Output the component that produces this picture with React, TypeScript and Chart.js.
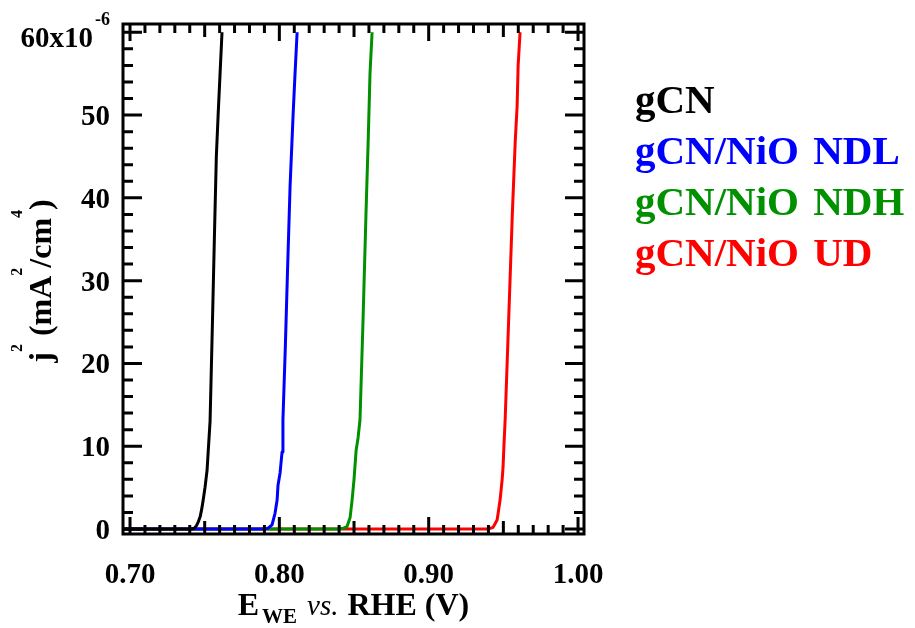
import React, { useEffect, useRef } from 'react';
import { Chart, registerables } from 'chart.js';

Chart.register(...registerables);

// ---- data (E vs RHE in V, j^2 in 10^-6 mA^2/cm^4) ----
const SERIES_LABELS = ['gCN', 'gCN/NiO NDL', 'gCN/NiO NDH', 'gCN/NiO UD'];
const SERIES_COLORS = ['#000000', '#0000FF', '#009000', '#FF0000'];

const GCN_E = [0.690, 0.7410, 0.7430, 0.7445, 0.7458, 0.7470, 0.7480, 0.7490, 0.7502, 0.7516, 0.7524, 0.7536, 0.7552, 0.7566, 0.7578, 0.7590, 0.7603, 0.7616];
const GCN_J2 = [0, 0, 0.1, 0.4, 0.9, 1.5, 2.4, 3.5, 5.0, 7.1, 9.5, 13, 25, 36, 45, 50, 55, 60];

const NDL_E = [0.690, 0.7891, 0.7924, 0.7951, 0.7971, 0.7985, 0.7991, 0.8005, 0.8018, 0.8024, 0.8040, 0.8056, 0.8072, 0.8092, 0.8105, 0.8119];
const NDL_J2 = [0, 0, 0.1, 0.5, 1.9, 3.5, 5.3, 6.8, 9.3, 13.2, 22, 32, 41.5, 50, 55, 60];

const NDH_E = [0.690, 0.8393, 0.8430, 0.8453, 0.8474, 0.8487, 0.8500, 0.8514, 0.8527, 0.8540, 0.8560, 0.8580, 0.8595, 0.8607, 0.8621];
const NDH_J2 = [0, 0, 0.1, 0.3, 1.4, 3.5, 6.0, 9.5, 11, 13.2, 25, 38, 47, 55, 60];

const UD_E = [0.690, 0.9398, 0.9431, 0.9458, 0.9465, 0.9478, 0.9492, 0.9498, 0.9505, 0.9512, 0.9535, 0.9560, 0.9580, 0.9592, 0.9599, 0.9612];
const UD_J2 = [0, 0, 0.2, 1.1, 1.9, 3.5, 6.0, 7.5, 10.5, 13.2, 25, 38, 47, 51, 56, 60];

// ---- axes ----
const X_MIN = 0.6953;
const X_MAX = 1.004;
const Y_MIN = -0.6;
const Y_MAX = 61;

const X_MAJOR_TICKS = [0.7, 0.8, 0.9, 1.0];
const X_MAJOR_LABELS = ['0.70', '0.80', '0.90', '1.00'];
const X_MEDIUM_TICKS = [0.75, 0.85, 0.95];
const X_MINOR_STEP = 0.01;

const Y_MAJOR_TICKS = [0, 10, 20, 30, 40, 50, 60];
const Y_MAJOR_LABELS = ['0', '10', '20', '30', '40', '50', '60x10'];
const Y_EXPONENT_LABEL = '-6';
const Y_MINOR_STEP = 2;

const SERIF = '"Liberation Serif", "Times New Roman", serif';

const near = (a: number, b: number) => Math.abs(a - b) < 1e-6;

const toPoints = (xs: number[], ys: number[]) => xs.map((x, i) => ({ x, y: ys[i] }));

const framePlugin = {
  id: 'igorFrame',
  afterDatasetsDraw(chart: any) {
    const { ctx, chartArea: ca, scales } = chart;
    const xs = scales.x;
    const ys = scales.y;
    ctx.save();
    ctx.strokeStyle = '#000';
    ctx.fillStyle = '#000';
    ctx.lineWidth = 3;
    ctx.lineCap = 'butt';

    // x ticks (bottom and top, inward)
    xs.ticks.forEach((t: any) => {
      const px = xs.getPixelForValue(t.value);
      const major = X_MAJOR_TICKS.some((m) => near(m, t.value));
      const medium = X_MEDIUM_TICKS.some((m) => near(m, t.value));
      const len = major ? 17 : medium ? 13 : 9;
      ctx.beginPath();
      ctx.moveTo(px, ca.bottom);
      ctx.lineTo(px, ca.bottom - len);
      ctx.moveTo(px, ca.top);
      ctx.lineTo(px, ca.top + len);
      ctx.stroke();
    });
    // y ticks (left and right, inward)
    ys.ticks.forEach((t: any) => {
      const py = ys.getPixelForValue(t.value);
      const major = Y_MAJOR_TICKS.some((m) => near(m, t.value));
      const len = major ? 19 : 10;
      ctx.beginPath();
      ctx.moveTo(ca.left, py);
      ctx.lineTo(ca.left + len, py);
      ctx.moveTo(ca.right, py);
      ctx.lineTo(ca.right - len, py);
      ctx.stroke();
    });
    // frame
    ctx.strokeRect(ca.left, ca.top, ca.right - ca.left, ca.bottom - ca.top);

    // x tick labels
    ctx.font = `bold 29px ${SERIF}`;
    ctx.textAlign = 'center';
    ctx.textBaseline = 'alphabetic';
    X_MAJOR_TICKS.forEach((v, i) => {
      ctx.fillText(X_MAJOR_LABELS[i], xs.getPixelForValue(v), ca.bottom + 49);
    });

    // y tick labels
    const labelRight = ca.left - 13;
    Y_MAJOR_TICKS.forEach((v, i) => {
      const py = ys.getPixelForValue(v);
      if (i === Y_MAJOR_TICKS.length - 1) {
        ctx.font = `bold 18px ${SERIF}`;
        ctx.textAlign = 'right';
        const supW = ctx.measureText(Y_EXPONENT_LABEL).width;
        ctx.fillText(Y_EXPONENT_LABEL, labelRight, py - 7);
        ctx.font = `bold 29px ${SERIF}`;
        ctx.fillText(Y_MAJOR_LABELS[i], labelRight - supW - 2, py + 15);
      } else {
        ctx.font = `bold 29px ${SERIF}`;
        ctx.textAlign = 'right';
        ctx.fillText(Y_MAJOR_LABELS[i], labelRight, py + 10);
      }
    });

    // x axis title: E_WE vs. RHE (V)
    ctx.textAlign = 'left';
    const xParts = [
      { t: 'E', f: `bold 32px ${SERIF}`, dy: 0, gap: 3 },
      { t: 'WE', f: `bold 21px ${SERIF}`, dy: 8, gap: 10 },
      { t: 'vs.', f: `italic 29px ${SERIF}`, dy: 0, gap: 9 },
      { t: 'RHE (V)', f: `bold 32px ${SERIF}`, dy: 0, gap: 0 },
    ];
    let total = 0;
    const widths = xParts.map((p) => {
      ctx.font = p.f;
      const w = ctx.measureText(p.t).width;
      total += w + p.gap;
      return w;
    });
    let cx = (ca.left + ca.right) / 2 - total / 2;
    const xBase = ca.bottom + 81;
    xParts.forEach((p, i) => {
      ctx.font = p.f;
      ctx.fillText(p.t, cx, xBase + p.dy);
      cx += widths[i] + p.gap;
    });

    // y axis title: j^2 (mA^2/cm^4)
    const yParts = [
      { t: 'j', sup: false },
      { t: '2', sup: true },
      { t: ' (mA', sup: false },
      { t: '2', sup: true },
      { t: '/cm', sup: false },
      { t: '4', sup: true },
      { t: ')', sup: false },
    ];
    const mainF = `bold 32px ${SERIF}`;
    const supF = `bold 16px ${SERIF}`;
    let ytotal = 0;
    const yw = yParts.map((p) => {
      ctx.font = p.sup ? supF : mainF;
      const w = ctx.measureText(p.t).width;
      ytotal += w;
      return w;
    });
    ctx.save();
    ctx.translate(ca.left - 72, (ca.top + ca.bottom) / 2 + 2);
    ctx.rotate(-Math.PI / 2);
    let ty = -ytotal / 2;
    yParts.forEach((p, i) => {
      ctx.font = p.sup ? supF : mainF;
      ctx.fillText(p.t, ty, p.sup ? -29 : 0);
      ty += yw[i];
    });
    ctx.restore();

    // legend (colored text)
    ctx.font = `bold 41px ${SERIF}`;
    ctx.textAlign = 'left';
    try {
      (ctx as any).wordSpacing = '4px';
    } catch (e) {
      /* ignore */
    }
    chart.data.datasets.forEach((ds: any, i: number) => {
      ctx.fillStyle = ds.borderColor;
      ctx.fillText(ds.label, ca.right + 51, 113 + i * 51);
    });
    ctx.restore();
  },
};

export default function App() {
  const canvasRef = useRef<HTMLCanvasElement | null>(null);

  useEffect(() => {
    const canvas = canvasRef.current;
    if (!canvas) return;
    const seriesX = [GCN_E, NDL_E, NDH_E, UD_E];
    const seriesY = [GCN_J2, NDL_J2, NDH_J2, UD_J2];
    const datasets = SERIES_LABELS.map((label, i) => ({
      label,
      data: toPoints(seriesX[i], seriesY[i]),
      borderColor: SERIES_COLORS[i],
      backgroundColor: SERIES_COLORS[i],
      borderWidth: 3,
      pointRadius: 0,
      tension: 0,
      fill: false,
      borderJoinStyle: 'round' as const,
    }));

    const chart = new Chart(canvas, {
      type: 'line',
      data: { datasets },
      options: {
        animation: false,
        responsive: false,
        devicePixelRatio: 1,
        parsing: true,
        layout: { padding: { left: 0, top: 24, right: 331, bottom: 0 } },
        plugins: {
          legend: { display: false },
          tooltip: { enabled: false },
        },
        scales: {
          x: {
            type: 'linear',
            min: X_MIN,
            max: X_MAX,
            grid: { display: false },
            border: { display: false },
            ticks: { display: false },
            afterBuildTicks: (scale: any) => {
              const ticks: { value: number }[] = [];
              const n = Math.round((X_MAJOR_TICKS[X_MAJOR_TICKS.length - 1] - X_MAJOR_TICKS[0]) / X_MINOR_STEP);
              for (let i = 0; i <= n; i++) {
                ticks.push({ value: Math.round((X_MAJOR_TICKS[0] + i * X_MINOR_STEP) * 1000) / 1000 });
              }
              scale.ticks = ticks;
            },
            afterFit: (scale: any) => {
              scale.height = 94;
            },
          },
          y: {
            type: 'linear',
            min: Y_MIN,
            max: Y_MAX,
            grid: { display: false },
            border: { display: false },
            ticks: { display: false },
            afterBuildTicks: (scale: any) => {
              const ticks: { value: number }[] = [];
              const top = Y_MAJOR_TICKS[Y_MAJOR_TICKS.length - 1];
              for (let v = Y_MAJOR_TICKS[0]; v <= top; v += Y_MINOR_STEP) ticks.push({ value: v });
              scale.ticks = ticks;
            },
            afterFit: (scale: any) => {
              scale.width = 123;
            },
          },
        },
      },
      plugins: [framePlugin],
    });
    return () => chart.destroy();
  }, []);

  return (
    <div style={{ position: 'fixed', left: 0, top: 0, width: 915, height: 628, background: '#fff' }}>
      <canvas ref={canvasRef} width={915} height={628} style={{ width: 915, height: 628, display: 'block' }} />
    </div>
  );
}
